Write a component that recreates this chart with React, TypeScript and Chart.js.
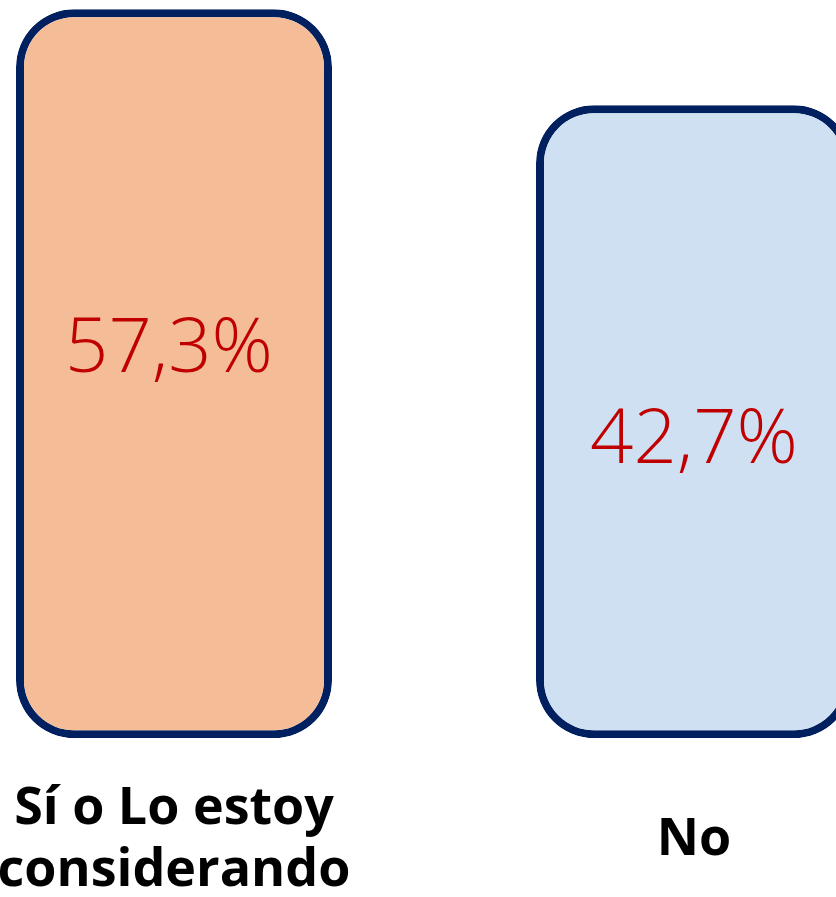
import React, { useEffect, useRef } from "react";
import { Chart, registerables } from "chart.js";

Chart.register(...registerables);

const categories: (string | string[])[] = [["Sí o Lo estoy", "considerando"], "No"];
const values: number[] = [57.3, 42.7];
const barColors: string[] = ["#F4BC97", "#CEE0F1"];
const axisMin = -53.5;
const axisMax = 58.7;

const valueLabelShift = [-23, 20];

const valueLabels = {
  id: "valueLabels",
  afterDatasetsDraw(chart: any) {
    const ctx = chart.ctx;
    const meta = chart.getDatasetMeta(0);
    ctx.save();
    ctx.font = "300 76px 'Open Sans'";
    ctx.fillStyle = "#C00000";
    ctx.textAlign = "center";
    ctx.textBaseline = "middle";
    meta.data.forEach((bar: any, i: number) => {
      const v = values[i];
      const txt = v.toFixed(1).replace(".", ",") + "%";
      const y = (bar.y + bar.base) / 2 + (valueLabelShift[i] || 0);
      ctx.fillText(txt, bar.x - (i === 0 ? 5 : 0), y);
    });
    ctx.restore();
  },
};

export default function App() {
  const ref = useRef<HTMLCanvasElement | null>(null);
  useEffect(() => {
    if (!ref.current) return;
    const chart = new Chart(ref.current, {
      type: "bar",
      data: {
        labels: categories,
        datasets: [
          {
            data: values,
            base: axisMin,
            backgroundColor: barColors,
            borderColor: "#002060",
            borderWidth: 8,
            borderRadius: 58,
            borderSkipped: false,
            barPercentage: 0.6077,
            categoryPercentage: 1,
          } as any,
        ],
      },
      options: {
        responsive: false,
        animation: false,
        layout: { padding: 0 },
        plugins: {
          legend: { display: false },
          tooltip: { enabled: false },
          title: { display: false },
        },
        scales: {
          x: {
            grid: { display: false, drawTicks: false },
            border: { display: false },
            ticks: {
              color: "#000000",
              font: { family: "'Open Sans'", size: 52, weight: "bold" },
              padding: 71,
              crossAlign: "center",
              maxRotation: 0,
              autoSkip: false,
            },
          },
          y: {
            display: false,
            min: axisMin,
            max: axisMax,
          },
        },
      },
      plugins: [valueLabels],
    });
    return () => chart.destroy();
  }, []);
  return (
    <div
      style={{
        position: "fixed",
        left: 0,
        top: 0,
        width: 836,
        height: 897,
        overflow: "hidden",
        background: "#ffffff",
      }}
    >
      <canvas
        ref={ref}
        width={1040}
        height={1005}
        style={{ position: "absolute", left: -86, top: 0, width: 1040, height: 1005 }}
      />
    </div>
  );
}
